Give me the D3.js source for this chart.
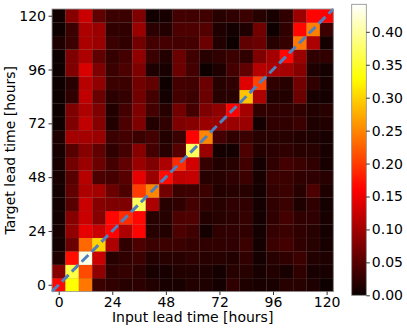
<!DOCTYPE html>
<html>
<head>
<meta charset="utf-8">
<script src="https://cdn.jsdelivr.net/npm/d3@7"></script>
<style>
  html, body { margin: 0; padding: 0; background: #fff; }
  svg { display: block; font-family: "DejaVu Sans", sans-serif; }
</style>
</head>
<body>
<svg id="chart" width="407" height="330"></svg>
<script>
// Lead times (hours) for both axes
const inputLeadTimes = d3.range(0, 121, 6);
const targetLeadTimes = d3.range(0, 121, 6);
const tickValues = [0, 24, 48, 72, 96, 120];
const colorbarTicks = [0, 0.05, 0.10, 0.15, 0.20, 0.25, 0.30, 0.35, 0.40];
const xLabel = "Input lead time [hours]";
const yLabel = "Target lead time [hours]";

// Rows: target lead time 0 .. 120; columns: input lead time 0 .. 120
const values = [
  [0.165,0.330,0.240,0.032,0.025,0.019,0.022,0.016,0.009,0.009,0.016,0.013,0.006,0.025,0.013,0.009,0.009,0.019,0.019,0.013,0.003],
  [0.082,0.360,0.210,0.088,0.025,0.028,0.022,0.009,0.009,0.016,0.014,0.013,0.006,0.019,0.019,0.009,0.016,0.009,0.025,0.009,0.009],
  [0.013,0.170,0.430,0.126,0.019,0.025,0.032,0.016,0.019,0.019,0.024,0.019,0.019,0.016,0.025,0.006,0.019,0.025,0.032,0.016,0.013],
  [0.006,0.063,0.230,0.300,0.107,0.025,0.044,0.032,0.032,0.032,0.027,0.025,0.025,0.025,0.032,0.006,0.032,0.038,0.025,0.019,0.009],
  [0.009,0.088,0.145,0.126,0.162,0.107,0.163,0.019,0.016,0.044,0.036,0.006,0.025,0.025,0.025,0.006,0.028,0.032,0.025,0.019,0.006],
  [0.006,0.082,0.126,0.082,0.165,0.190,0.165,0.019,0.019,0.044,0.045,0.016,0.019,0.022,0.028,0.006,0.025,0.038,0.025,0.025,0.009],
  [0.006,0.050,0.126,0.082,0.076,0.076,0.370,0.107,0.019,0.025,0.038,0.025,0.019,0.025,0.025,0.006,0.025,0.032,0.013,0.025,0.006],
  [0.006,0.057,0.107,0.101,0.063,0.044,0.200,0.250,0.069,0.032,0.033,0.032,0.016,0.019,0.019,0.006,0.028,0.032,0.019,0.044,0.013],
  [0.009,0.050,0.114,0.044,0.038,0.050,0.145,0.095,0.167,0.120,0.123,0.019,0.019,0.025,0.032,0.009,0.032,0.032,0.025,0.025,0.019],
  [0.009,0.069,0.095,0.063,0.038,0.057,0.095,0.076,0.107,0.190,0.132,0.028,0.016,0.019,0.035,0.006,0.025,0.038,0.032,0.025,0.009],
  [0.009,0.050,0.082,0.057,0.025,0.038,0.082,0.038,0.019,0.050,0.370,0.095,0.006,0.006,0.044,0.016,0.022,0.025,0.019,0.019,0.009],
  [0.013,0.101,0.101,0.095,0.032,0.038,0.032,0.038,0.016,0.032,0.162,0.250,0.038,0.025,0.032,0.019,0.019,0.019,0.016,0.013,0.009],
  [0.003,0.076,0.120,0.082,0.016,0.044,0.076,0.016,0.025,0.076,0.082,0.095,0.095,0.095,0.095,0.006,0.025,0.025,0.032,0.013,0.016],
  [0.003,0.076,0.107,0.076,0.016,0.038,0.076,0.038,0.019,0.069,0.038,0.076,0.088,0.160,0.101,0.025,0.025,0.025,0.025,0.016,0.019],
  [0.003,0.025,0.120,0.063,0.022,0.028,0.069,0.038,0.006,0.038,0.032,0.063,0.019,0.019,0.290,0.107,0.016,0.016,0.063,0.009,0.006],
  [0.003,0.019,0.114,0.088,0.032,0.032,0.069,0.057,0.003,0.038,0.035,0.063,0.019,0.025,0.140,0.205,0.025,0.019,0.069,0.025,0.009],
  [0.003,0.076,0.136,0.076,0.032,0.044,0.076,0.013,0.009,0.063,0.038,0.003,0.013,0.038,0.057,0.114,0.107,0.101,0.082,0.013,0.006],
  [0.003,0.076,0.107,0.057,0.028,0.038,0.088,0.032,0.016,0.063,0.035,0.019,0.025,0.032,0.025,0.076,0.101,0.165,0.095,0.025,0.025],
  [0.013,0.032,0.105,0.095,0.032,0.025,0.069,0.038,0.038,0.038,0.038,0.063,0.016,0.003,0.057,0.063,0.019,0.028,0.240,0.107,0.006],
  [0.003,0.032,0.107,0.095,0.025,0.025,0.095,0.022,0.016,0.044,0.044,0.047,0.013,0.006,0.013,0.069,0.003,0.025,0.165,0.246,0.032],
  [0.005,0.082,0.126,0.057,0.032,0.032,0.076,0.005,0.009,0.038,0.035,0.035,0.019,0.025,0.032,0.019,0.009,0.025,0.095,0.163,0.160]
];
const vmin = 0, vmax = 0.4418;

// matplotlib "hot" colormap
function hot(t) {
  t = Math.max(0, Math.min(1, t));
  const r = t < 0.365079 ? 0.0416 + (1 - 0.0416) * t / 0.365079 : 1;
  const g = t < 0.365079 ? 0 : (t < 0.746032 ? (t - 0.365079) / (0.746032 - 0.365079) : 1);
  const b = t < 0.746032 ? 0 : (t - 0.746032) / (1 - 0.746032);
  return d3.rgb(r * 255, g * 255, b * 255).toString();
}
const color = v => hot((v - vmin) / (vmax - vmin));

const svg = d3.select("#chart");
const L = 52, R = 333.3, T = 9, B = 291.5;
const FS = 14;
const half = 3;
const x = d3.scaleLinear().domain([-half, 120 + half]).range([L, R]);
const y = d3.scaleLinear().domain([-half, 120 + half]).range([B, T]);

const cells = [];
values.forEach((row, i) => row.forEach((v, j) => cells.push({ t: targetLeadTimes[i], s: inputLeadTimes[j], v })));

const g = svg.append("g");
g.selectAll("rect.cell").data(cells).join("rect")
  .attr("class", "cell")
  .attr("x", d => x(d.s - half))
  .attr("y", d => y(d.t + half))
  .attr("width", d => x(d.s + half) - x(d.s - half) + 0.3)
  .attr("height", d => y(d.t - half) - y(d.t + half) + 0.3)
  .attr("fill", d => color(d.v))
  .attr("stroke", "rgba(110,110,110,0.18)")
  .attr("stroke-width", 0.6);

// diagonal dashed line
g.append("line")
  .attr("x1", x(-half)).attr("y1", y(-half))
  .attr("x2", x(120 + half)).attr("y2", y(120 + half))
  .attr("stroke", "#5080bd")
  .attr("stroke-width", 3)
  .attr("stroke-dasharray", "9.5,4.5");

// frame
svg.append("rect")
  .attr("x", L).attr("y", T).attr("width", R - L).attr("height", B - T)
  .attr("fill", "none").attr("stroke", "#9a9a9a").attr("stroke-width", 0.8);

// axes
const xAxis = svg.append("g").attr("transform", `translate(0,${B})`)
  .call(d3.axisBottom(x).tickValues(tickValues).tickSize(3.5).tickPadding(2).tickFormat(d3.format("d")));
const yAxis = svg.append("g").attr("transform", `translate(${L},0)`)
  .call(d3.axisLeft(y).tickValues(tickValues).tickSize(3.5).tickPadding(2.5).tickFormat(d3.format("d")));
[xAxis, yAxis].forEach(a => {
  a.select(".domain").remove();
  a.selectAll("text").attr("font-size", FS).attr("fill", "#000").attr("font-family", "DejaVu Sans");
  a.selectAll("line").attr("stroke", "#000").attr("stroke-width", 0.8);
});

svg.append("text").attr("x", (L + R) / 2).attr("y", 322)
  .attr("text-anchor", "middle").attr("font-size", FS).text(xLabel);
svg.append("text").attr("transform", `translate(14.5,${(T + B) / 2}) rotate(-90)`)
  .attr("text-anchor", "middle").attr("font-size", FS).text(yLabel);

// colorbar
const cbL = 351.7, cbR = 366.3, cbT = 4.3, cbB = 295.3;
const cy = d3.scaleLinear().domain([vmin, vmax]).range([cbB, cbT]);
const defs = svg.append("defs");
const grad = defs.append("linearGradient").attr("id", "cbgrad")
  .attr("x1", 0).attr("y1", 1).attr("x2", 0).attr("y2", 0);
d3.range(0, 1.0001, 0.02).forEach(t => {
  grad.append("stop").attr("offset", t).attr("stop-color", hot(t));
});
svg.append("rect").attr("x", cbL).attr("y", cbT).attr("width", cbR - cbL).attr("height", cbB - cbT)
  .attr("fill", "url(#cbgrad)").attr("stroke", "#8a8a8a").attr("stroke-width", 0.8);
const cAxis = svg.append("g").attr("transform", `translate(${cbR},0)`)
  .call(d3.axisRight(cy).tickValues(colorbarTicks).tickSize(3.5).tickPadding(2).tickFormat(d3.format(".2f")));
cAxis.select(".domain").remove();
cAxis.selectAll("text").attr("font-size", FS).attr("fill", "#000").attr("font-family", "DejaVu Sans");
cAxis.selectAll("line").attr("stroke", "#000").attr("stroke-width", 0.8);
</script>
</body>
</html>
